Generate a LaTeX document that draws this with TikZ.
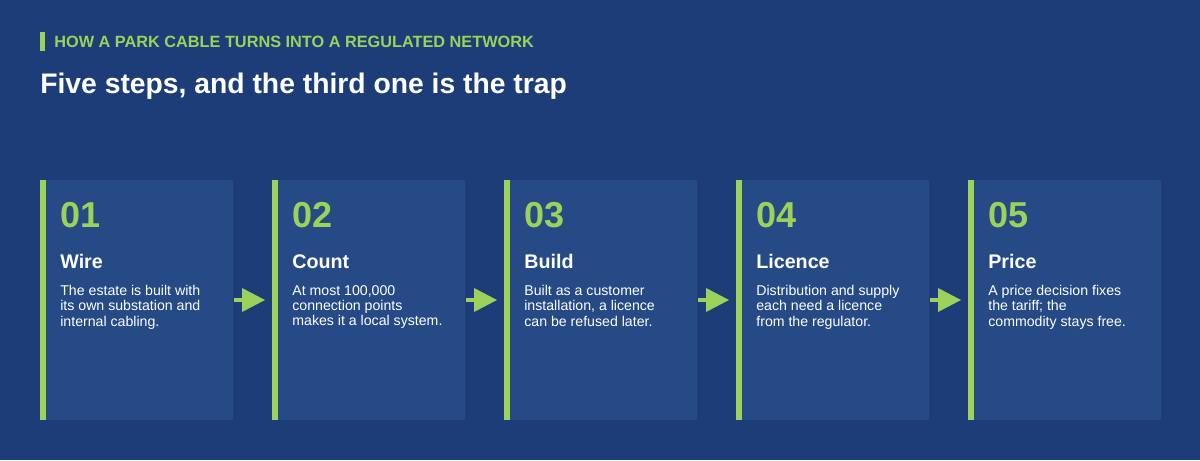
\documentclass[tikz,border=0pt]{standalone}
\usepackage{fontspec}
\setmainfont{Liberation Sans}
\usetikzlibrary{positioning}
\definecolor{bgblue}{HTML}{1C3D78}
\definecolor{cardblue}{HTML}{264A85}
\definecolor{leaf}{HTML}{9CD25A}
\newcommand{\stepw}[0] {232}

\begin{document}
\begin{tikzpicture}[x=0.02cm,y=-0.02cm,
    card/.style={fill=cardblue,draw=none},
    bar/.style={fill=leaf,draw=none},
    num/.style={anchor=north west,inner sep=0pt,text=leaf,font=\fontsize{20.5}{24}\selectfont\bfseries},
    head/.style={anchor=north west,inner sep=0pt,text=white,font=\fontsize{11.2}{13}\selectfont\bfseries},
    body/.style={anchor=north west,inner sep=0pt,text=white,align=left,font=\fontsize{8.05}{8.7}\selectfont}]
        \fill[bgblue] (0,0) rectangle (1200,460);
        \useasboundingbox (0,0) rectangle (1200,460);
        %header
        \fill[leaf] (40,32) rectangle (45,51);
        \node[anchor=west,inner sep=0pt,text=leaf,font=\fontsize{9.27}{10}\selectfont\bfseries] (kicker) at (54,41.5) {HOW A PARK CABLE TURNS INTO A REGULATED NETWORK};
        \node[anchor=west,inner sep=0pt,text=white,font=\fontsize{16.1}{18}\selectfont\bfseries] (title) at (40,86) {Five steps, and the third one is the trap};
        %cards
        \foreach \i/\n/\h/\t in {
            0/01/Wire/{The estate is built with\\its own substation and\\internal cabling.},
            1/02/Count/{At most 100,000\\connection points\\makes it a local system.},
            2/03/Build/{Built as a customer\\installation, a licence\\can be refused later.},
            3/04/Licence/{Distribution and supply\\each need a licence\\from the regulator.},
            4/05/Price/{A price decision fixes\\the tariff; the\\commodity stays free.}} {
            \fill[card] (40+\i*\stepw,180) rectangle (233+\i*\stepw,420);
            \fill[bar] (40+\i*\stepw,180) rectangle (46+\i*\stepw,420);
            \node[num] (n\i) at (60+\i*\stepw,202) {\n};
            \node[head] (h\i) at (60+\i*\stepw,254) {\h};
            \node[body] (b\i) at (60+\i*\stepw,285) {\t};
        }
        %arrows between cards
        \foreach \i in {0,...,3} {
            \coordinate (s\i) at (234+\i*\stepw,300);
            \coordinate (t\i) at (242+\i*\stepw,300);
            \draw[leaf,line width=2.5pt] (s\i) -- (t\i);
            \fill[leaf] (242+\i*\stepw,288) -- (265+\i*\stepw,300) -- (242+\i*\stepw,312) -- cycle;
        }
\end{tikzpicture}
\end{document}
